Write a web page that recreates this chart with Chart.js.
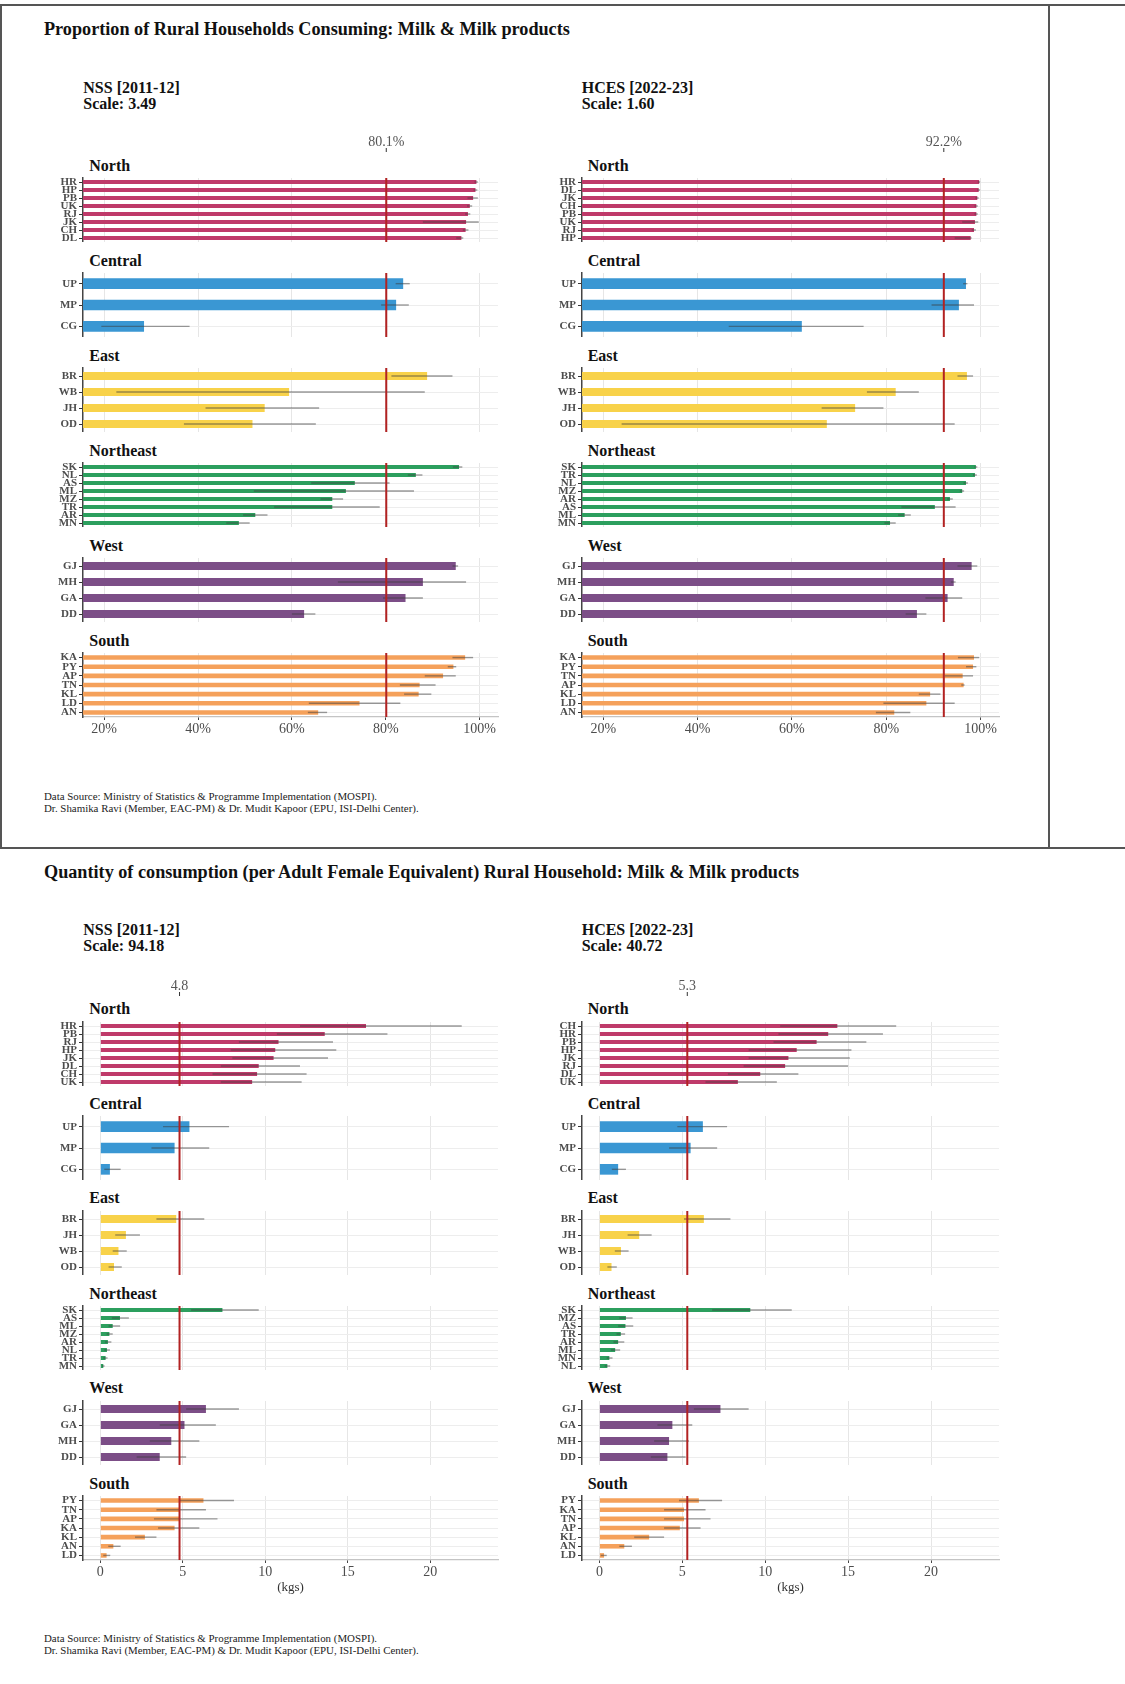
<!DOCTYPE html>
<html>
<head>
<meta charset="utf-8">
<script src="https://cdn.jsdelivr.net/npm/chart.js@4.4.1/dist/chart.umd.min.js"></script>
<style>
  body { margin: 0; background: #fff; width: 1125px; height: 1684px; position: relative; overflow: hidden;
         font-family: 'Liberation Serif', 'Times New Roman', serif; color: #111; }
  .t { position: absolute; white-space: nowrap; line-height: 1; }
  .title { font-size: 18.2px; font-weight: bold; }
  .sub { font-size: 16px; font-weight: bold; line-height: 16px; }
  .facet { font-size: 16px; font-weight: bold; }
  .note { font-size: 10.9px; line-height: 12px; color: #222; }
  .rule { position: absolute; background: #555; }
  canvas { position: absolute; }
</style>
</head>
<body>
<div class="rule" style="left:0;top:4px;width:1125px;height:1.5px"></div>
<div class="rule" style="left:0;top:4px;width:1.5px;height:844px"></div>
<div class="rule" style="left:1048px;top:4px;width:1.5px;height:844px"></div>
<div class="rule" style="left:0;top:847px;width:1125px;height:1.5px"></div>

<div class="t title" style="left:44px;top:20px">Proportion of Rural Households Consuming: Milk &amp; Milk products</div>
<div class="t title" style="left:44px;top:863px">Quantity of consumption (per Adult Female Equivalent) Rural Household: Milk &amp; Milk products</div>

<div class="t note" style="left:44px;top:790px">Data Source: Ministry of Statistics &amp; Programme Implementation (MOSPI).<br>Dr. Shamika Ravi (Member, EAC-PM) &amp; Dr. Mudit Kapoor (EPU, ISI-Delhi Center).</div>
<div class="t note" style="left:44px;top:1632px">Data Source: Ministry of Statistics &amp; Programme Implementation (MOSPI).<br>Dr. Shamika Ravi (Member, EAC-PM) &amp; Dr. Mudit Kapoor (EPU, ISI-Delhi Center).</div>

<script>
// regions, top to bottom in every column
const regions = ['North', 'Central', 'East', 'Northeast', 'West', 'South'];
const regionColours = ['#bf3a6a', '#3a97d3', '#f8d24a', '#2c9f5e', '#7c4e87', '#f5a15b'];

const propTicks = [20, 40, 60, 80, 100];
const qtyTicks = [0, 5, 10, 15, 20];

const columnTitles = ['NSS [2011-12]', 'HCES [2022-23]'];
const propScales = ['Scale: 3.49', 'Scale: 1.60'];
const qtyScales = ['Scale: 94.18', 'Scale: 40.72'];
const propMeans = [80.1, 92.2];
const qtyMeans = [4.8, 5.3];

// proportion consuming (%), NSS 2011-12
const propNssStates = [
  ['HR', 'HP', 'PB', 'UK', 'RJ', 'JK', 'CH', 'DL'],
  ['UP', 'MP', 'CG'],
  ['BR', 'WB', 'JH', 'OD'],
  ['SK', 'NL', 'AS', 'ML', 'MZ', 'TR', 'AR', 'MN'],
  ['GJ', 'MH', 'GA', 'DD'],
  ['KA', 'PY', 'AP', 'TN', 'KL', 'LD', 'AN']
];
const propNssValues = [
  [99.3, 99.1, 98.6, 97.9, 97.5, 97.1, 97.0, 96.1],
  [83.7, 82.2, 28.5],
  [88.8, 59.4, 54.2, 51.6],
  [95.6, 86.4, 73.4, 71.5, 68.6, 68.6, 52.2, 48.7],
  [94.9, 87.9, 84.2, 62.6],
  [96.9, 94.4, 92.2, 87.2, 87.0, 74.4, 65.6]
];
const propNssLow = [
  [98.9, 98.7, 97.4, 97.3, 96.9, 87.9, 96.4, 95.0],
  [82.1, 79.0, 19.4],
  [81.2, 22.6, 41.6, 37.0],
  [94.3, 84.7, 64.1, 51.9, 66.1, 56.2, 49.6, 46.0],
  [94.2, 69.8, 79.4, 60.0],
  [94.2, 93.2, 88.3, 83.0, 83.9, 63.6, 63.4]
];
const propNssHigh = [
  [99.6, 99.5, 99.6, 98.4, 98.0, 99.8, 97.6, 96.5],
  [85.1, 84.9, 38.2],
  [94.2, 88.3, 65.8, 65.1],
  [96.3, 87.8, 80.8, 86.0, 70.9, 78.7, 54.8, 51.0],
  [95.4, 97.1, 87.9, 65.0],
  [98.6, 95.0, 94.9, 90.6, 89.7, 83.1, 67.5]
];

// proportion consuming (%), HCES 2022-23
const propHcesStates = [
  ['HR', 'DL', 'JK', 'CH', 'PB', 'UK', 'RJ', 'HP'],
  ['UP', 'MP', 'CG'],
  ['BR', 'WB', 'JH', 'OD'],
  ['SK', 'TR', 'NL', 'MZ', 'AR', 'AS', 'ML', 'MN'],
  ['GJ', 'MH', 'GA', 'DD'],
  ['KA', 'PY', 'TN', 'AP', 'KL', 'LD', 'AN']
];
const propHcesValues = [
  [99.7, 99.6, 99.3, 99.1, 99.1, 98.8, 98.6, 97.9],
  [96.9, 95.4, 62.1],
  [97.1, 82.0, 73.4, 67.4],
  [99.0, 98.8, 96.9, 96.1, 93.5, 90.3, 83.9, 80.8],
  [98.1, 94.3, 93.0, 86.5],
  [98.6, 98.4, 96.2, 96.4, 89.3, 88.5, 81.7]
];
const propHcesLow = [
  [99.4, 99.3, 98.9, 98.7, 98.7, 96.1, 98.1, 94.5],
  [96.3, 89.6, 46.6],
  [95.1, 75.9, 66.3, 23.9],
  [98.7, 98.4, 96.4, 95.6, 92.9, 83.2, 82.5, 79.6],
  [95.1, 93.7, 88.3, 84.1],
  [95.2, 96.9, 92.4, 95.9, 86.9, 79.4, 77.8]
];
const propHcesHigh = [
  [99.9, 99.9, 99.6, 99.4, 99.4, 99.5, 99.0, 98.1],
  [97.2, 98.6, 75.2],
  [98.4, 86.9, 79.4, 94.5],
  [99.3, 99.2, 97.3, 96.5, 94.1, 94.7, 85.2, 82.0],
  [99.3, 94.7, 96.1, 88.5],
  [99.7, 99.1, 98.4, 96.6, 91.5, 94.5, 85.1]
];

// quantity (kgs per adult female equivalent), NSS 2011-12
const qtyNssStates = [
  ['HR', 'PB', 'RJ', 'HP', 'JK', 'DL', 'CH', 'UK'],
  ['UP', 'MP', 'CG'],
  ['BR', 'JH', 'WB', 'OD'],
  ['SK', 'AS', 'ML', 'MZ', 'AR', 'NL', 'TR', 'MN'],
  ['GJ', 'GA', 'MH', 'DD'],
  ['PY', 'TN', 'AP', 'KA', 'KL', 'AN', 'LD']
];
const qtyNssValues = [
  [16.1, 13.6, 10.8, 10.6, 10.5, 9.6, 9.5, 9.2],
  [5.4, 4.5, 0.58],
  [4.6, 1.55, 1.1, 0.83],
  [7.4, 1.19, 0.75, 0.55, 0.46, 0.40, 0.32, 0.18],
  [6.4, 5.1, 4.3, 3.6],
  [6.25, 4.8, 4.8, 4.5, 2.7, 0.79, 0.38]
];
const qtyNssLow = [
  [12.1, 10.7, 8.4, 7.9, 8.0, 7.3, 6.8, 7.3],
  [3.8, 3.1, 0.24],
  [3.4, 0.9, 0.75, 0.5],
  [5.5, 0.7, 0.5, 0.38, 0.28, 0.24, 0.18, 0.1],
  [5.2, 3.6, 3.0, 2.2],
  [4.8, 3.4, 3.25, 3.5, 2.1, 0.48, 0.18]
];
const qtyNssHigh = [
  [21.9, 17.4, 14.1, 14.3, 13.8, 12.1, 12.5, 12.2],
  [7.8, 6.6, 1.23],
  [6.3, 2.4, 1.6, 1.3],
  [9.6, 1.73, 1.2, 0.75, 0.67, 0.58, 0.44, 0.26],
  [8.4, 7.0, 6.0, 5.2],
  [8.1, 6.4, 7.1, 6.0, 3.4, 1.23, 0.6]
];

// quantity (kgs per adult female equivalent), HCES 2022-23
const qtyHcesStates = [
  ['CH', 'HR', 'PB', 'HP', 'JK', 'RJ', 'DL', 'UK'],
  ['UP', 'MP', 'CG'],
  ['BR', 'JH', 'WB', 'OD'],
  ['SK', 'MZ', 'AS', 'TR', 'AR', 'ML', 'MN', 'NL'],
  ['GJ', 'GA', 'MH', 'DD'],
  ['PY', 'KA', 'TN', 'AP', 'KL', 'AN', 'LD']
];
const qtyHcesValues = [
  [14.35, 13.8, 13.1, 11.9, 11.4, 11.2, 9.7, 8.35],
  [6.24, 5.5, 1.13],
  [6.3, 2.4, 1.3, 0.73],
  [9.1, 1.6, 1.57, 1.29, 1.13, 0.95, 0.6, 0.48],
  [7.3, 4.4, 4.2, 4.1],
  [6.0, 5.1, 5.1, 4.85, 3.0, 1.5, 0.28]
];
const qtyHcesLow = [
  [10.9, 10.8, 10.5, 9.0, 9.0, 8.7, 7.75, 6.4],
  [4.7, 4.2, 0.75],
  [5.1, 1.7, 0.93, 0.48],
  [6.8, 1.2, 1.13, 1.03, 0.85, 0.69, 0.44, 0.32],
  [5.7, 3.5, 3.3, 3.1],
  [4.8, 3.9, 3.9, 3.9, 2.1, 1.2, 0.08]
];
const qtyHcesHigh = [
  [17.9, 17.1, 16.1, 15.2, 15.1, 15.0, 12.0, 10.7],
  [7.7, 7.1, 1.6],
  [7.9, 3.15, 1.76, 1.05],
  [11.6, 2.0, 2.04, 1.55, 1.5, 1.25, 0.79, 0.65],
  [9.0, 5.6, 5.4, 5.2],
  [7.4, 6.4, 6.7, 6.1, 3.9, 1.96, 0.44]
];

Chart.defaults.font.family = "'Liberation Serif', 'Times New Roman', serif";

// error bars, the mean line and (on the first facet) the mean label
const errorBars = {
  id: 'errorBars',
  afterDatasetsDraw(chart, args, opts) {
    const { ctx, chartArea, scales: { x, y } } = chart;
    const ds = chart.data.datasets[0];
    ctx.save();
    ctx.beginPath();
    ctx.rect(chartArea.left, chartArea.top, chartArea.width, chartArea.height);
    ctx.clip();
    ctx.strokeStyle = 'rgba(60,60,60,0.5)';
    ctx.lineWidth = 1.4;
    ds.errLow.forEach((lo, i) => {
      const py = y.getPixelForValue(i);
      ctx.beginPath();
      ctx.moveTo(x.getPixelForValue(lo), py);
      ctx.lineTo(x.getPixelForValue(ds.errHigh[i]), py);
      ctx.stroke();
    });
    const mx = x.getPixelForValue(opts.mean);
    ctx.strokeStyle = '#b22222';
    ctx.lineWidth = 2;
    ctx.beginPath();
    ctx.moveTo(mx, chartArea.top);
    ctx.lineTo(mx, chartArea.bottom);
    ctx.stroke();
    ctx.restore();

    if (opts.label) {
      ctx.save();
      ctx.fillStyle = '#555';
      ctx.font = "14px 'Liberation Serif', serif";
      ctx.textAlign = 'center';
      ctx.textBaseline = 'middle';
      ctx.fillText(opts.label, mx, chartArea.top - 36);
      ctx.strokeStyle = '#333';
      ctx.lineWidth = 1;
      ctx.beginPath();
      ctx.moveTo(mx, chartArea.top - 30);
      ctx.lineTo(mx, chartArea.top - 26);
      ctx.stroke();
      ctx.restore();
    }
  }
};

function addText(cls, x, y, html) {
  const d = document.createElement('div');
  d.className = 't ' + cls;
  d.style.left = x + 'px';
  d.style.top = y + 'px';
  d.innerHTML = html;
  document.body.appendChild(d);
}

function facet(f) {
  const yW = 50, padR = 22, facetH = 64;
  const padTop = f.label ? 48 : 3;
  const xH = f.bottom ? (f.axisTitle ? 37 : 24) : 0;
  const cv = document.createElement('canvas');
  cv.width = Math.round(f.x1 - f.x0 + yW + padR);
  cv.height = Math.round(padTop + facetH + xH);
  cv.style.left = (f.x0 - yW) + 'px';
  cv.style.top = (f.top - padTop) + 'px';
  document.body.appendChild(cv);

  new Chart(cv, {
    type: 'bar',
    data: {
      labels: f.states,
      datasets: [{
        data: f.values,
        errLow: f.low,
        errHigh: f.high,
        backgroundColor: f.colour,
        borderWidth: 0,
        barPercentage: 0.5,
        categoryPercentage: 1
      }]
    },
    options: {
      indexAxis: 'y',
      responsive: false,
      animation: false,
      devicePixelRatio: 1,
      layout: { padding: { top: padTop, right: padR, left: 0, bottom: 0 } },
      plugins: {
        legend: { display: false },
        tooltip: { enabled: false },
        errorBars: { mean: f.mean, label: f.label }
      },
      scales: {
        x: {
          type: 'linear',
          min: f.min,
          max: f.max,
          afterBuildTicks: s => { s.ticks = f.ticks.map(v => ({ value: v })); },
          afterFit: s => { s.height = xH; s.paddingLeft = 0; s.paddingRight = 0; },
          grid: { color: '#e6e6e6', lineWidth: 1, drawTicks: f.bottom, tickLength: 3, tickColor: '#444' },
          border: { display: f.bottom, color: '#c4c4c4', width: 1.3 },
          ticks: {
            display: f.bottom, color: '#4d4d4d', font: { size: 14 }, padding: 1,
            maxRotation: 0, autoSkip: false, callback: f.fmt
          },
          title: {
            display: f.bottom && !!f.axisTitle, text: f.axisTitle || '', color: '#333',
            font: { size: 13 }, padding: { top: 0, bottom: 2 }
          }
        },
        y: {
          afterFit: s => { s.width = yW; s.paddingTop = 0; s.paddingBottom = 0; },
          grid: { color: '#ededed', offset: false, drawTicks: true, tickLength: 4, tickColor: '#333' },
          border: { color: '#444', width: 1.5 },
          ticks: { color: '#4d4d4d', font: { size: 11, weight: 'bold' }, padding: 2, autoSkip: false }
        }
      }
    },
    plugins: [errorBars]
  });
}

const columnsX = [[83.3, 498.3], [581.7, 998.3]];

const panels = [
  {
    tops: [178, 273, 368, 463, 558, 653], subTop: 80,
    min: 15.5, max: 103.9, ticks: propTicks, fmt: v => v + '%', axisTitle: null,
    scales: propScales, means: propMeans, meanFmt: v => v.toFixed(1) + '%',
    cols: [
      [propNssStates, propNssValues, propNssLow, propNssHigh],
      [propHcesStates, propHcesValues, propHcesLow, propHcesHigh]
    ]
  },
  {
    tops: [1021.7, 1116, 1210.7, 1306, 1400.7, 1496], subTop: 922,
    min: -1.05, max: 24.1, ticks: qtyTicks, fmt: v => String(v), axisTitle: '(kgs)',
    scales: qtyScales, means: qtyMeans, meanFmt: v => v.toFixed(1),
    cols: [
      [qtyNssStates, qtyNssValues, qtyNssLow, qtyNssHigh],
      [qtyHcesStates, qtyHcesValues, qtyHcesLow, qtyHcesHigh]
    ]
  }
];

panels.forEach(p => {
  p.cols.forEach((col, c) => {
    const [x0, x1] = columnsX[c];
    addText('sub', x0, p.subTop, columnTitles[c] + '<br>' + p.scales[c]);
    regions.forEach((reg, r) => {
      addText('facet', x0 + 6, p.tops[r] - 20.5, reg);
      facet({
        x0, x1, top: p.tops[r],
        states: col[0][r], values: col[1][r], low: col[2][r], high: col[3][r],
        colour: regionColours[r],
        min: p.min, max: p.max, ticks: p.ticks, fmt: p.fmt,
        mean: p.means[c],
        label: r === 0 ? p.meanFmt(p.means[c]) : null,
        bottom: r === regions.length - 1,
        axisTitle: p.axisTitle
      });
    });
  });
});
</script>
</body>
</html>
